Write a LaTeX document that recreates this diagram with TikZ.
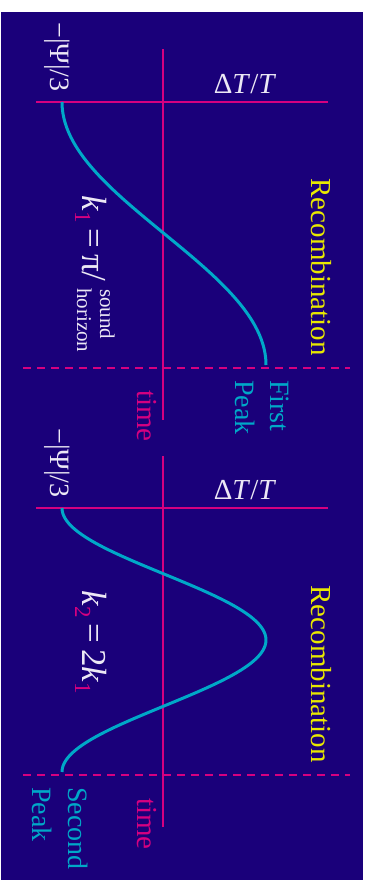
\documentclass[tikz,border=0pt]{standalone}
\usepackage{fontspec}
\setmainfont{Liberation Serif}
\definecolor{bg}{RGB}{26,0,122}
\definecolor{mag}{RGB}{214,0,128}
\definecolor{cy}{RGB}{0,168,200}
\definecolor{yel}{RGB}{232,232,0}
\definecolor{wt}{RGB}{236,232,245}
\newcommand{\fs}[1]{\fontsize{#1}{#1}\selectfont}
\begin{document}
\begin{tikzpicture}[x=1pt,y=-1pt,
  axisline/.style={mag, line width=2.4pt},
  dashline/.style={mag, line width=2.4pt, dash pattern=on 8pt off 6pt},
  wave/.style={cy, line width=3pt},
  rtext/.style={rotate=-90, inner sep=0pt, anchor=base west},
  big/.style={font=\fs{28}},
  klab/.style={rtext, wt, font=\fs{35}},
  small/.style={rtext, wt, font=\fs{21}},
  psi/.style={rotate=-90, inner sep=0pt, wt, font=\fs{28}},
  dtt/.style={inner sep=0pt, wt, font=\fs{29}},
  recomb/.style={rotate=-90, inner sep=0pt, yel, font=\fs{29}},
  peak/.style={rtext, cy, big},
  timelab/.style={rtext, mag, font=\fs{29}}]
\useasboundingbox (0,0) rectangle (369,881);
\fill[white] (0,0) rectangle (369,881);
\fill[bg] (1,12) rectangle (363,880);

% ---------- panel 1 ----------
\coordinate (h1a) at (36,102);  \coordinate (h1b) at (328,102);
\coordinate (v1a) at (163,49);  \coordinate (v1b) at (163,420);
\coordinate (d1a) at (23,368);  \coordinate (d1b) at (350,368);
\draw[axisline] (h1a) -- (h1b);
\draw[axisline] (v1a) -- (v1b);
\draw[dashline] (d1a) -- (d1b);
\draw[wave] plot[domain=102:365, samples=90] ({164-102*cos((\x-102)/263*180)}, \x);

\node[psi] (psi1) at (57,57) {−|Ψ|/3};
\node[dtt] (dt1) at (245,84) {Δ\textit{T}/\textit{T}};
\node[recomb] (rec1) at (321,267) {Recombination};
\node[klab] (k1) at (82,195) {\textit{k}\raisebox{-7pt}{\fs{23}\color{mag}1}\,=\,π/};
\node[small] (snd) at (100,289) {sound};
\node[small] (hor) at (77,288) {horizon};
\node[peak] (first) at (270,380) {First};
\node[peak] (peak1) at (235,380) {Peak};
\node[timelab] (time1) at (137,390) {time};

% ---------- panel 2 ----------
\coordinate (h2a) at (36,508);  \coordinate (h2b) at (328,508);
\coordinate (v2a) at (163,456); \coordinate (v2b) at (163,827);
\coordinate (d2a) at (23,775);  \coordinate (d2b) at (350,775);
\draw[axisline] (h2a) -- (h2b);
\draw[axisline] (v2a) -- (v2b);
\draw[dashline] (d2a) -- (d2b);
\draw[wave] plot[domain=508:772, samples=120] ({164-102*cos((\x-508)/264*360)}, \x);

\node[psi] (psi2) at (57,463) {−|Ψ|/3};
\node[dtt] (dt2) at (245,490) {Δ\textit{T}/\textit{T}};
\node[recomb] (rec2) at (321,674) {Recombination};
\node[klab] (k2) at (82,590) {\textit{k}\raisebox{-7pt}{\fs{23}\color{mag}2}\,=\,2\textit{k}\raisebox{-7pt}{\fs{23}\color{mag}1}};
\node[peak] (second) at (68,787) {Second};
\node[peak] (peak2) at (32,787) {Peak};
\node[timelab] (time2) at (137,798) {time};
\end{tikzpicture}
\end{document}
